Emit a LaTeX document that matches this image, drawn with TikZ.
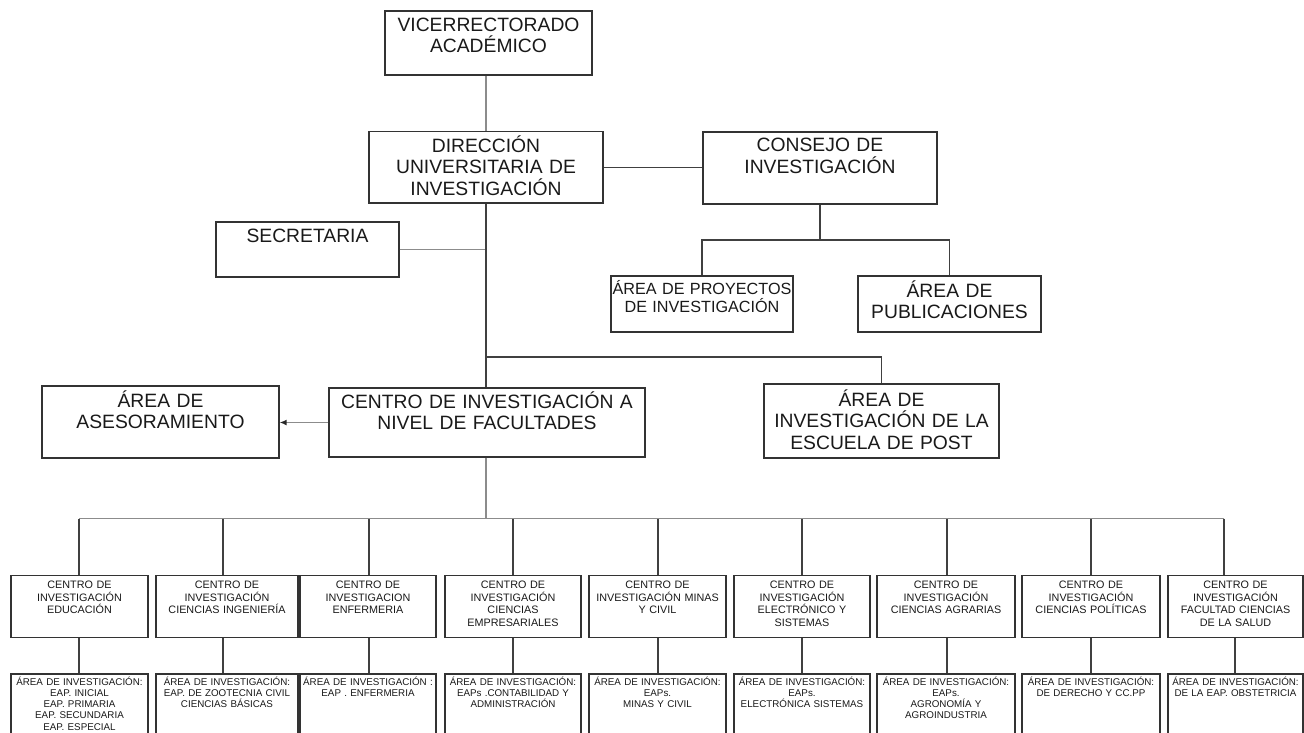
\documentclass[tikz,border=0pt]{standalone}
\usepackage{fontspec}
\setmainfont{Liberation Sans}
\usetikzlibrary{arrows.meta}
\begin{document}
\begin{tikzpicture}[x=1pt,y=-1pt,
  box/.style={draw=black!80,line width=1.3pt,rectangle,inner sep=0pt},
  big/.style={align=center,inner sep=0pt,anchor=base,font=\fontsize{19.3}{21.5}\selectfont,text=black!90},
  mid/.style={align=center,inner sep=0pt,anchor=base,font=\fontsize{16.2}{17.5}\selectfont,text=black!90},
  up/.style={align=center,inner sep=0pt,anchor=base,font=\fontsize{10.8}{12.6}\selectfont,text=black!90},
  low/.style={align=center,inner sep=0pt,anchor=base,font=\fontsize{9.8}{11.3}\selectfont,text=black!90},
  conn/.style={draw=black!75,line width=1.3pt},
  lconn/.style={draw=black!45,line width=1.4pt}]
\useasboundingbox (0,0) rectangle (1304,732);
% top boxes
\node[box,minimum width=207pt,minimum height=64pt] (vice) at (488.5,43) {};
\node[big,text width=207pt] (vicet) at (488.5,31) {VICERRECTORADO\\ACADÉMICO};
\node[box,minimum width=234pt,minimum height=71.5pt] (dir) at (486,167.25) {};
\node[big,text width=234pt] (dirt) at (486,152) {DIRECCIÓN\\UNIVERSITARIA DE\\INVESTIGACIÓN};
\node[box,minimum width=234pt,minimum height=72pt] (cons) at (820,168) {};
\node[big,text width=234pt] (const) at (820,151.5) {CONSEJO DE\\INVESTIGACIÓN};
\node[box,minimum width=183pt,minimum height=55pt] (sec) at (307.5,249.5) {};
\node[big,text width=183pt] (sect) at (307.5,242) {SECRETARIA};
\node[box,minimum width=182pt,minimum height=56pt] (proy) at (702,304) {};
\node[mid,text width=182pt] (proyt) at (702,294.5) {ÁREA DE PROYECTOS\\DE INVESTIGACIÓN};
\node[box,minimum width=183pt,minimum height=56pt] (pub) at (949.5,304) {};
\node[big,font=\fontsize{19.3}{21}\selectfont,text width=183pt] (pubt) at (949.5,297.7) {ÁREA DE\\PUBLICACIONES};
\node[box,minimum width=237pt,minimum height=72pt] (ases) at (160.5,422) {};
\node[big,font=\fontsize{19.3}{20.4}\selectfont,text width=237pt] (asest) at (160.5,407.7) {ÁREA DE\\ASESORAMIENTO};
\node[box,minimum width=316pt,minimum height=69pt] (cfac) at (487,422.5) {};
\node[big,font=\fontsize{19.3}{21}\selectfont,text width=316pt] (cfact) at (487,408.2) {CENTRO DE INVESTIGACIÓN A\\NIVEL DE FACULTADES};
\node[box,minimum width=235pt,minimum height=74pt] (post) at (881.5,421) {};
\node[big,text width=235pt] (postt) at (881.5,406.4) {ÁREA DE\\INVESTIGACIÓN DE LA\\ESCUELA DE POST};
% connectors top
\draw[lconn] (dir.north) -- (dir.north |- vice.south);
\draw[conn] (dir.east) -- (dir.east -| cons.west);
\draw[lconn] (sec.east) -- (sec.east -| dir.south);
\draw[conn] (dir.south) -- (dir.south |- cfac.north);
\coordinate (cb) at (820,240);
\draw[conn] (cons.south) -- (cb);
\draw[conn] (proy.north) |- (cb) -| (pub.north);
\coordinate (pb) at (486,357);
\draw[conn] (pb) -| (post.north);
\draw[lconn,-{Latex[length=7pt,width=6pt,color=black!85]}] (cfac.west) -- (cfac.west -| ases.east);
% bottom level
\coordinate (bus) at (486,518.5);
\draw[lconn] (bus |- cfac.south) -- (bus);
\foreach \i/\xa/\xb/\xc/\xd in {1/11/148/79/79,2/156/298/223/223,3/300/436/369/369,4/445/581/513/513,5/589/726/658/658,6/734/870/802/802,7/877/1015/947/947,8/1022/1160/1091/1091,9/1168/1303/1224/1235}{
  \pgfmathsetmacro{\cx}{(\xa+\xb)/2}
  \pgfmathsetmacro{\w}{\xb-\xa}
  \node[box,minimum width=\w pt,minimum height=62pt] (u\i) at (\cx,606.5) {};
  \node[box,minimum width=\w pt,minimum height=72pt] (l\i) at (\cx,710) {};
  \coordinate (j\i) at (\xc,518.5);
  \coordinate (k\i) at (\xd,656);
  \draw[conn] (j\i) -- (j\i |- u\i.north);
  \draw[conn] (k\i |- u\i.south) -- (k\i |- l\i.north);
}
\draw[lconn] (j1) -- (j9);
% texts of bottom boxes
\node[up,text width=137pt] (u1t) at (u1 |- 0,588.5) {CENTRO DE\\INVESTIGACIÓN\\EDUCACIÓN};
\node[up,text width=142pt] (u2t) at (u2 |- 0,588.5) {CENTRO DE\\INVESTIGACIÓN\\CIENCIAS INGENIERÍA};
\node[up,text width=136pt] (u3t) at (u3 |- 0,588.5) {CENTRO DE\\INVESTIGACION\\ENFERMERIA};
\node[up,text width=136pt] (u4t) at (u4 |- 0,588.5) {CENTRO DE\\INVESTIGACIÓN\\CIENCIAS\\EMPRESARIALES};
\node[up,text width=137pt] (u5t) at (u5 |- 0,588.5) {CENTRO DE\\INVESTIGACIÓN MINAS\\Y CIVIL};
\node[up,text width=136pt] (u6t) at (u6 |- 0,588.5) {CENTRO DE\\INVESTIGACIÓN\\ELECTRÓNICO Y\\SISTEMAS};
\node[up,text width=138pt] (u7t) at (u7 |- 0,588.5) {CENTRO DE\\INVESTIGACIÓN\\CIENCIAS AGRARIAS};
\node[up,text width=138pt] (u8t) at (u8 |- 0,588.5) {CENTRO DE\\INVESTIGACIÓN\\CIENCIAS POLÍTICAS};
\node[up,text width=135pt] (u9t) at (u9 |- 0,588.5) {CENTRO DE\\INVESTIGACIÓN\\FACULTAD CIENCIAS\\DE LA SALUD};
\node[low,text width=137pt] (l1t) at (l1 |- 0,685) {ÁREA DE INVESTIGACIÓN:\\EAP. INICIAL\\EAP. PRIMARIA\\EAP. SECUNDARIA\\EAP. ESPECIAL};
\node[low,text width=142pt] (l2t) at (l2 |- 0,685) {ÁREA DE INVESTIGACIÓN:\\EAP. DE ZOOTECNIA CIVIL\\CIENCIAS BÁSICAS};
\node[low,text width=136pt] (l3t) at (l3 |- 0,685) {ÁREA DE INVESTIGACIÓN :\\EAP . ENFERMERIA};
\node[low,text width=136pt] (l4t) at (l4 |- 0,685) {ÁREA DE INVESTIGACIÓN:\\EAPs .CONTABILIDAD Y\\ADMINISTRACIÓN};
\node[low,text width=137pt] (l5t) at (l5 |- 0,685) {ÁREA DE INVESTIGACIÓN:\\EAPs.\\MINAS Y CIVIL};
\node[low,text width=136pt] (l6t) at (l6 |- 0,685) {ÁREA DE INVESTIGACIÓN:\\EAPs.\\ELECTRÓNICA SISTEMAS};
\node[low,text width=138pt] (l7t) at (l7 |- 0,685) {ÁREA DE INVESTIGACIÓN:\\EAPs.\\AGRONOMÍA Y\\AGROINDUSTRIA};
\node[low,text width=138pt] (l8t) at (l8 |- 0,685) {ÁREA DE INVESTIGACIÓN:\\DE DERECHO Y CC.PP};
\node[low,text width=135pt] (l9t) at (l9 |- 0,685) {ÁREA DE INVESTIGACIÓN:\\DE LA EAP. OBSTETRICIA};
\end{tikzpicture}
\end{document}
